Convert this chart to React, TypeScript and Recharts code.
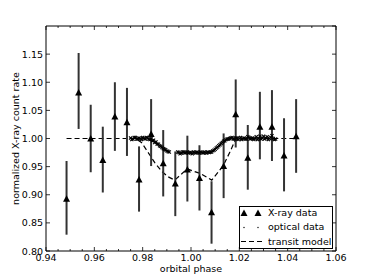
import React from 'react';
import { ComposedChart, Scatter, Line, XAxis, YAxis, ErrorBar } from 'recharts';

// X-ray bins (phase, rate, lower / upper end of error bar)
const xrayPhase = [0.9485, 0.9535, 0.9585, 0.9635, 0.9685, 0.9735, 0.9785, 0.9835, 0.9885, 0.9935, 0.9985, 1.0035, 1.0085, 1.0135, 1.0185, 1.0235, 1.0285, 1.0335, 1.0385, 1.0435];
const xrayRate = [0.893, 1.082, 1.0, 0.962, 1.039, 1.029, 0.927, 1.008, 0.956, 0.92, 0.945, 0.93, 0.869, 0.951, 1.043, 0.966, 1.021, 1.021, 0.97, 1.004];
const xrayLow = [0.829, 1.017, 0.94, 0.904, 0.978, 0.969, 0.87, 0.951, 0.897, 0.862, 0.888, 0.872, 0.813, 0.894, 0.984, 0.909, 0.963, 0.96, 0.906, 0.939];
const xrayHigh = [0.96, 1.152, 1.06, 1.021, 1.1, 1.09, 0.986, 1.07, 1.015, 0.977, 1.005, 0.988, 0.924, 1.009, 1.105, 1.024, 1.083, 1.086, 1.036, 1.07];

// optical light curve
const opticalPhase = [
  0.975, 0.9755, 0.976, 0.9765, 0.977, 0.9775, 0.978, 0.9785, 0.979, 0.9795, 0.98, 0.9805, 0.981, 0.9815, 0.982, 0.9825,
  0.983, 0.9835, 0.984, 0.9845, 0.985, 0.9855, 0.986, 0.9865, 0.987, 0.9875, 0.988, 0.9885, 0.989, 0.9895, 0.99, 0.9905, 0.991,
  0.9945, 0.995, 0.9955, 0.996, 0.9965, 0.997, 0.9975, 0.998, 0.9985, 0.999, 0.9995, 1.0, 1.0005, 1.001, 1.0015, 1.002,
  1.0025, 1.003, 1.0035, 1.004, 1.0045, 1.005, 1.0055, 1.006, 1.0065, 1.007, 1.0075, 1.008, 1.0085, 1.009, 1.0095, 1.01,
  1.0105, 1.011, 1.0115, 1.012, 1.0125, 1.013, 1.0135, 1.014, 1.0145, 1.015, 1.0155, 1.016, 1.0165, 1.017, 1.0175, 1.018,
  1.0185, 1.019, 1.0195, 1.02, 1.0205, 1.021, 1.0215, 1.022, 1.0225, 1.023, 1.0235, 1.024, 1.0245, 1.025, 1.0255, 1.026,
  1.0265, 1.027, 1.0275, 1.028, 1.0285, 1.029, 1.0295, 1.03, 1.0305, 1.031, 1.0315, 1.032, 1.0325, 1.033, 1.0335, 1.034,
  1.0345, 1.035,
];
const opticalFlux = [
  1.001, 0.998, 0.999, 1.002, 1.002, 0.999, 0.999, 1.001, 1.0, 0.998, 1.002, 1.0, 0.999, 1.002, 1.001, 0.999,
  0.998, 0.999, 0.996, 0.997, 0.993, 0.994, 0.99, 0.99, 0.987, 0.986, 0.984, 0.982, 0.981, 0.98, 0.978, 0.977, 0.976,
  0.976, 0.975, 0.973, 0.974, 0.976, 0.976, 0.974, 0.975, 0.976, 0.974, 0.975, 0.975, 0.973, 0.976, 0.975, 0.974,
  0.976, 0.975, 0.974, 0.976, 0.975, 0.974, 0.976, 0.975, 0.974, 0.976, 0.975, 0.976, 0.976, 0.978, 0.979, 0.981,
  0.983, 0.985, 0.987, 0.989, 0.991, 0.993, 0.995, 0.996, 0.998, 0.999, 0.999, 1.0, 1.001, 1.002, 0.999, 0.999,
  1.001, 1.001, 0.998, 1.0, 1.002, 0.998, 1.0, 1.001, 0.999, 0.999, 1.003, 1.002, 0.999, 1.0, 1.001, 0.998,
  1.0, 1.003, 0.998, 1.0, 1.004, 0.999, 1.001, 1.004, 0.999, 1.001, 1.003, 0.998, 1.0, 1.002, 1.005, 1.0,
  0.998, 0.999,
];

// transit model
const modelPhase = [0.9485, 0.977, 0.9795, 0.9823, 0.985, 0.9878, 0.9905, 0.9933, 0.9961, 0.9984, 1.001, 1.0037, 1.0062, 1.0086, 1.0112, 1.0134, 1.0161, 1.0182, 1.0203, 1.0435];
const modelRate = [1.0, 1.0, 0.993, 0.975, 0.957, 0.942, 0.932, 0.926, 0.937, 0.946, 0.942, 0.938, 0.932, 0.926, 0.94, 0.952, 0.976, 0.996, 1.0, 1.0];

const xMajorTicks = [0.94, 0.96, 0.98, 1.0, 1.02, 1.04, 1.06];
const xAllTicks = [0.94, 0.945, 0.95, 0.955, 0.96, 0.965, 0.97, 0.975, 0.98, 0.985, 0.99, 0.995, 1.0, 1.005, 1.01, 1.015, 1.02, 1.025, 1.03, 1.035, 1.04, 1.045, 1.05, 1.055, 1.06];
const yTicks = [0.8, 0.85, 0.9, 0.95, 1.0, 1.05, 1.1, 1.15];

const xray = xrayPhase.map((x, i) => ({ x, y: xrayRate[i], err: [xrayRate[i] - xrayLow[i], xrayHigh[i] - xrayRate[i]] }));
const optical = opticalPhase.map((x, i) => ({ x, y: opticalFlux[i] }));
const model = modelPhase.map((x, i) => ({ x, y: modelRate[i] }));

const FONT = 'DejaVu Sans';

const isMajor = (v: number) => xMajorTicks.some((m) => Math.abs(m - v) < 1e-6);

const BottomTick = (props: any) => {
  const { x, y, payload } = props;
  const major = isMajor(payload.value);
  return (
    <g>
      <line x1={x} y1={y} x2={x} y2={y - (major ? 4 : 2)} stroke="#000" strokeWidth={0.8} />
      {major && (
        <text x={x} y={y + 10} textAnchor="middle" fontSize={9.5} fontFamily={FONT} fill="#000">
          {payload.value.toFixed(2)}
        </text>
      )}
    </g>
  );
};

const TopTick = (props: any) => {
  const { x, y, payload } = props;
  const major = isMajor(payload.value);
  return <line x1={x} y1={y} x2={x} y2={y + (major ? 4 : 2)} stroke="#000" strokeWidth={0.8} />;
};

const LeftTick = (props: any) => {
  const { x, y, payload } = props;
  return (
    <g>
      <line x1={x} y1={y} x2={x + 4} y2={y} stroke="#000" strokeWidth={0.8} />
      <text x={x - 3} y={y + 3.5} textAnchor="end" fontSize={9.5} fontFamily={FONT} fill="#000">
        {payload.value.toFixed(2)}
      </text>
    </g>
  );
};

const RightTick = (props: any) => {
  const { x, y } = props;
  return <line x1={x} y1={y} x2={x - 4} y2={y} stroke="#000" strokeWidth={0.8} />;
};

const Triangle = (props: any) => {
  const { cx, cy } = props;
  if (cx == null || cy == null) return null;
  return <polygon points={`${cx - 3.5},${cy + 3} ${cx + 3.5},${cy + 3} ${cx},${cy - 3.5}`} fill="#000" />;
};

const Cross = (props: any) => {
  const { cx, cy } = props;
  if (cx == null || cy == null) return null;
  return (
    <g stroke="#000" strokeWidth={1.1}>
      <line x1={cx - 1.6} y1={cy - 1.6} x2={cx + 1.6} y2={cy + 1.6} />
      <line x1={cx - 1.6} y1={cy + 1.6} x2={cx + 1.6} y2={cy - 1.6} />
    </g>
  );
};

const legendRow: React.CSSProperties = {
  position: 'absolute',
  left: 28,
  fontSize: 9.5,
  lineHeight: '12px',
  whiteSpace: 'nowrap',
};

export default function App() {
  return (
    <div style={{ position: 'absolute', left: 0, top: 0, width: 374, height: 280, background: '#fff', fontFamily: FONT }}>
      <ComposedChart width={374} height={280} margin={{ top: 25, right: 37, bottom: 0, left: 0 }}>
        <XAxis
          dataKey="x"
          type="number"
          domain={[0.94, 1.06]}
          ticks={xAllTicks}
          interval={0}
          tickSize={0}
          tickMargin={0}
          tick={<BottomTick />}
          axisLine={{ stroke: '#000' }}
          height={29}
          allowDataOverflow
          label={{ value: 'orbital phase', position: 'insideBottom', offset: 8, fontSize: 9.5, fill: '#000' }}
        />
        <XAxis
          xAxisId="top"
          orientation="top"
          dataKey="x"
          type="number"
          domain={[0.94, 1.06]}
          ticks={xAllTicks}
          interval={0}
          tickSize={0}
          tickMargin={0}
          tick={<TopTick />}
          axisLine={{ stroke: '#000' }}
          height={1}
          allowDataOverflow
        />
        <YAxis
          dataKey="y"
          type="number"
          domain={[0.8, 1.2]}
          ticks={yTicks}
          interval={0}
          tickSize={0}
          tickMargin={0}
          tick={<LeftTick />}
          axisLine={{ stroke: '#000' }}
          width={46}
          allowDataOverflow
          label={{
            value: 'normalized X-ray count rate',
            angle: -90,
            position: 'insideLeft',
            offset: 16,
            fontSize: 9.5,
            fill: '#000',
            style: { textAnchor: 'middle' },
          }}
        />
        <YAxis
          yAxisId="right"
          orientation="right"
          dataKey="y"
          type="number"
          domain={[0.8, 1.2]}
          ticks={[...yTicks, 1.2]}
          interval={0}
          tickSize={0}
          tickMargin={0}
          tick={<RightTick />}
          axisLine={{ stroke: '#000' }}
          width={1}
          allowDataOverflow
        />
        {/* invisible series so the top and right frame axes get drawn */}
        <Line
          data={model}
          xAxisId="top"
          yAxisId="right"
          dataKey="y"
          stroke="none"
          dot={false}
          activeDot={false}
          isAnimationActive={false}
        />
        <Line
          data={model}
          dataKey="y"
          type="linear"
          stroke="#000"
          strokeWidth={1.2}
          strokeDasharray="5 3"
          dot={false}
          activeDot={false}
          isAnimationActive={false}
        />
        <Scatter data={optical} dataKey="y" shape={<Cross />} isAnimationActive={false} />
        <Scatter data={xray} dataKey="y" shape={<Triangle />} isAnimationActive={false}>
          <ErrorBar dataKey="err" direction="y" width={0} stroke="#333" strokeWidth={2} />
        </Scatter>
      </ComposedChart>
      <div
        style={{
          position: 'absolute',
          left: 239,
          top: 206,
          width: 94,
          height: 43,
          boxSizing: 'border-box',
          border: '1px solid #000',
          background: '#fff',
          color: '#000',
        }}
      >
        <svg width={28} height={43} style={{ position: 'absolute', left: 0, top: 0 }}>
          <polygon points="0.5,9 7.5,9 4,2.5" fill="#000" />
          <polygon points="14.5,9 21.5,9 18,2.5" fill="#000" />
          <circle cx={4} cy={20.5} r={0.7} fill="#000" />
          <circle cx={18} cy={20.5} r={0.7} fill="#000" />
          <line x1={1} y1={34.5} x2={22} y2={34.5} stroke="#000" strokeWidth={1.2} strokeDasharray="5 3" />
        </svg>
        <div style={{ ...legendRow, top: -0.5 }}>X-ray data</div>
        <div style={{ ...legendRow, top: 14 }}>optical data</div>
        <div style={{ ...legendRow, top: 28.5 }}>transit model</div>
      </div>
    </div>
  );
}
